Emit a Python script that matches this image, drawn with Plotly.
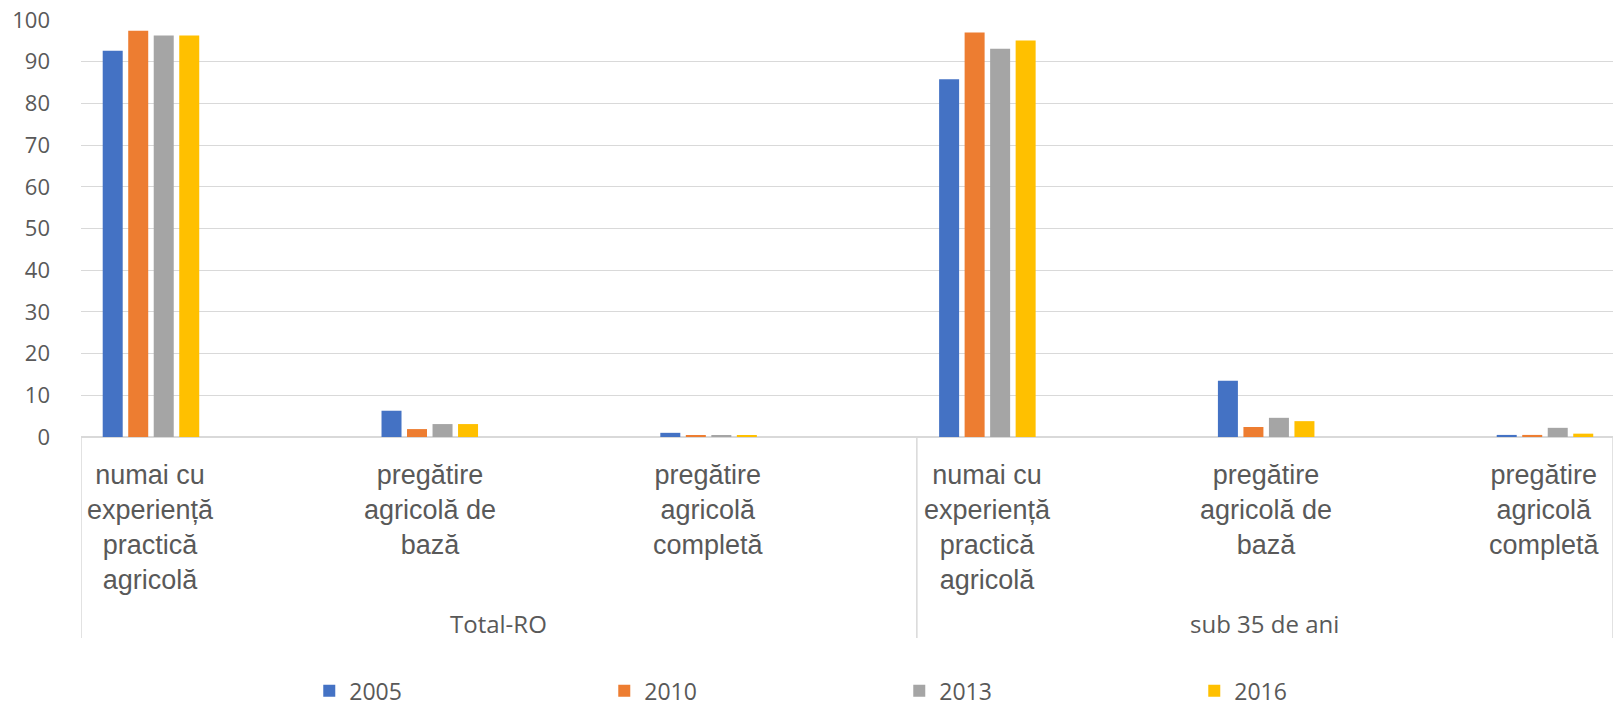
import plotly.graph_objects as go

# ---- data ----
groups = ["Total-RO", "sub 35 de ani"]
levels = [
    "numai cu<br>experiență<br>practică<br>agricolă",
    "pregătire<br>agricolă de<br>bază",
    "pregătire<br>agricolă<br>completă",
]
categories = [f"{g} | {l}" for g in groups for l in levels]
years = ["2005", "2010", "2013", "2016"]
v2005 = [92.6, 6.3, 1.0, 85.8, 13.5, 0.5]
v2010 = [97.4, 1.9, 0.3, 97.0, 2.4, 0.5]
v2013 = [96.3, 3.1, 0.3, 93.1, 4.6, 2.2]
v2016 = [96.3, 3.1, 0.3, 95.1, 3.8, 0.8]
series = [v2005, v2010, v2013, v2016]
colors = ["#4472C4", "#ED7D31", "#A5A5A5", "#FFC000"]
yticks = [0, 10, 20, 30, 40, 50, 60, 70, 80, 90, 100]

TXT = "#595959"
GRID = "#D9D9D9"

fig = go.Figure()
for name, vals, col in zip(years, series, colors):
    fig.add_trace(go.Bar(x=categories, y=vals, name=name, marker_color=col,
                         marker_line_width=0))

x0, x1 = -0.251, 5.244
div = 2.747
fig.update_layout(
    width=1617, height=708,
    margin=dict(l=81, r=4, t=20, b=271, autoexpand=False),
    paper_bgcolor="white", plot_bgcolor="white",
    barmode="group", bargap=0.634, bargroupgap=0.216,
    showlegend=True,
    legend=dict(orientation="h", x=0.149, xanchor="left", y=-0.660, yanchor="bottom",
                font=dict(family="Open Sans", size=23, color=TXT),
                entrywidth=250, entrywidthmode="pixels", traceorder="normal"),
    xaxis=dict(type="category", range=[x0, x1], showticklabels=False, automargin=False,
               showgrid=False, zeroline=False, showline=False, ticks=""),
    yaxis=dict(range=[0, 100], tickvals=yticks, showgrid=True, gridcolor=GRID,
               gridwidth=1, zeroline=True, zerolinecolor=GRID, zerolinewidth=1.5,
               showline=False, ticks="", ticklabelstandoff=30, automargin=False,
               tickfont=dict(family="Open Sans", size=22, color=TXT)),
)

# category labels
for i, c in enumerate(categories):
    fig.add_annotation(x=i, xref="x", y=-0.05, yref="paper", yanchor="top",
                       text=levels[i % 3], showarrow=False, align="center",
                       font=dict(family="Liberation Sans, Arial", size=27, color=TXT))

# group labels
for g, cx in zip(groups, [(x0 + div) / 2, (div + x1) / 2]):
    fig.add_annotation(x=cx, xref="x", y=-0.448, yref="paper", yanchor="middle",
                       text=g, showarrow=False,
                       font=dict(family="Open Sans", size=24, color=TXT))

# group dividers
for xv in [x0, div, x1]:
    fig.add_shape(type="line", xref="x", yref="paper", x0=xv, x1=xv, y0=0, y1=-0.482,
                  line=dict(color=GRID, width=1.5))

fig.write_html("out.html", config={"displayModeBar": False},
               post_script="document.body.style.margin='0';document.body.style.overflow='hidden';")
